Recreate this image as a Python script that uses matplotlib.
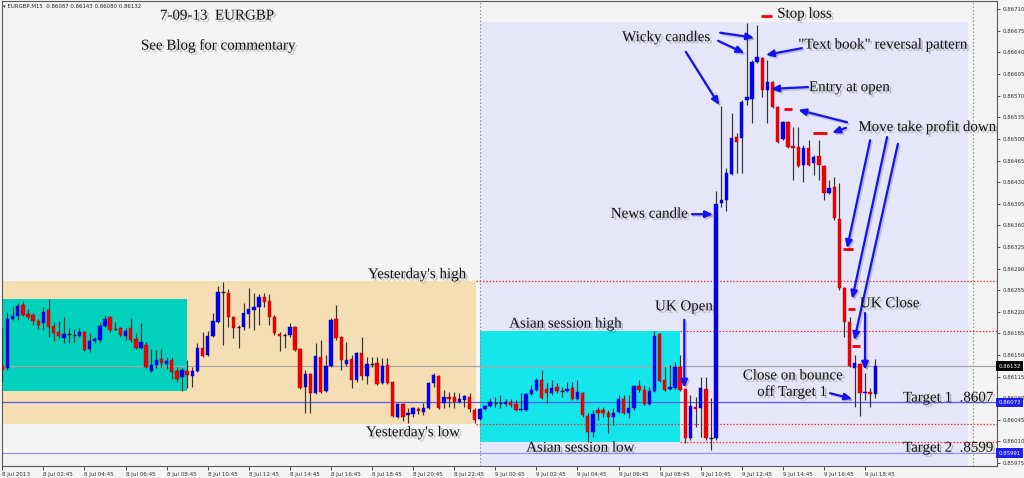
import matplotlib
matplotlib.use('Agg')
import matplotlib.pyplot as plt
import matplotlib.patches as mpatches
import matplotlib.patheffects as pe
from matplotlib.transforms import blended_transform_factory
import numpy as np

# ---------------- data (EURGBP M15, 8 Jul 2013 00:45 -> 9 Jul 2013 19:15) ----------------
opens = [
    0.86132, 0.86129, 0.86208, 0.86213, 0.86231, 0.86216, 0.86215, 0.86205, 0.86202, 0.86223,
    0.86197, 0.86187, 0.86178, 0.86184, 0.86182, 0.86181, 0.86187, 0.86160, 0.86173, 0.86174,
    0.86197, 0.86212, 0.86192, 0.86194, 0.86181, 0.86194, 0.86176, 0.86161, 0.86166, 0.86124,
    0.86134, 0.86143, 0.86135, 0.86142, 0.86124, 0.86114, 0.86124, 0.86116, 0.86124, 0.86161,
    0.86150, 0.86181, 0.86203, 0.86252, 0.86250, 0.86212, 0.86195, 0.86195, 0.86216, 0.86223,
    0.86228, 0.86244, 0.86237, 0.86212, 0.86184, 0.86182, 0.86182, 0.86195, 0.86160, 0.86098,
    0.86119, 0.86088, 0.86147, 0.86092, 0.86132, 0.86208, 0.86179, 0.86135, 0.86143, 0.86109,
    0.86153, 0.86116, 0.86135, 0.86137, 0.86105, 0.86134, 0.86106, 0.86050, 0.86071, 0.86053,
    0.86054, 0.86062, 0.86058, 0.86064, 0.86105, 0.86116, 0.86072, 0.86082, 0.86082, 0.86074,
    0.86077, 0.86082, 0.86061, 0.86046, 0.86062, 0.86067, 0.86072, 0.86072, 0.86071, 0.86074,
    0.86071, 0.86061, 0.86061, 0.86087, 0.86093, 0.86109, 0.86095, 0.86088, 0.86098, 0.86092,
    0.86092, 0.86097, 0.86079, 0.86088, 0.86051, 0.86025, 0.86061, 0.86061, 0.86056, 0.86050,
    0.86058, 0.86079, 0.86056, 0.86064, 0.86100, 0.86093, 0.86071, 0.86092, 0.86184, 0.86109,
    0.86095, 0.86097, 0.86131, 0.86095, 0.86016, 0.86066, 0.86064, 0.86095, 0.86016, 0.86016,
    0.86396, 0.86401, 0.86443, 0.86503, 0.86502, 0.86563, 0.86565, 0.86625, 0.86631, 0.86579,
    0.86592, 0.86552, 0.86500, 0.86527, 0.86489, 0.86487, 0.86458, 0.86485, 0.86461, 0.86472,
    0.86456, 0.86412, 0.86422, 0.86370, 0.86259, 0.86203, 0.86129, 0.86135, 0.86088, 0.86090,
    0.86087]
highs = [
    0.86194, 0.86220, 0.86228, 0.86234, 0.86237, 0.86224, 0.86218, 0.86208, 0.86228, 0.86241,
    0.86203, 0.86205, 0.86212, 0.86194, 0.86192, 0.86194, 0.86189, 0.86186, 0.86179, 0.86202,
    0.86215, 0.86213, 0.86203, 0.86195, 0.86194, 0.86210, 0.86186, 0.86202, 0.86171, 0.86160,
    0.86158, 0.86160, 0.86147, 0.86147, 0.86131, 0.86129, 0.86142, 0.86131, 0.86169, 0.86187,
    0.86189, 0.86218, 0.86262, 0.86268, 0.86257, 0.86213, 0.86199, 0.86234, 0.86259, 0.86250,
    0.86249, 0.86250, 0.86249, 0.86215, 0.86187, 0.86186, 0.86202, 0.86197, 0.86161, 0.86126,
    0.86121, 0.86169, 0.86174, 0.86150, 0.86210, 0.86231, 0.86181, 0.86171, 0.86150, 0.86155,
    0.86179, 0.86147, 0.86147, 0.86147, 0.86145, 0.86145, 0.86108, 0.86072, 0.86072, 0.86064,
    0.86066, 0.86066, 0.86072, 0.86106, 0.86121, 0.86118, 0.86093, 0.86090, 0.86090, 0.86088,
    0.86085, 0.86088, 0.86064, 0.86064, 0.86069, 0.86080, 0.86082, 0.86085, 0.86079, 0.86079,
    0.86077, 0.86088, 0.86088, 0.86101, 0.86113, 0.86126, 0.86105, 0.86109, 0.86105, 0.86098,
    0.86106, 0.86106, 0.86109, 0.86090, 0.86056, 0.86061, 0.86066, 0.86066, 0.86061, 0.86064,
    0.86085, 0.86085, 0.86085, 0.86101, 0.86109, 0.86101, 0.86098, 0.86189, 0.86186, 0.86131,
    0.86134, 0.86139, 0.86150, 0.86097, 0.86085, 0.86082, 0.86114, 0.86114, 0.86080, 0.86416,
    0.86553, 0.86453, 0.86542, 0.86510, 0.86563, 0.86688, 0.86628, 0.86685, 0.86633, 0.86628,
    0.86594, 0.86553, 0.86529, 0.86529, 0.86519, 0.86519, 0.86490, 0.86498, 0.86474, 0.86498,
    0.86458, 0.86433, 0.86438, 0.86429, 0.86260, 0.86212, 0.86150, 0.86137, 0.86120, 0.86097,
    0.86143]
lows = [
    0.86106, 0.86126, 0.86207, 0.86207, 0.86213, 0.86208, 0.86199, 0.86192, 0.86190, 0.86179,
    0.86173, 0.86178, 0.86169, 0.86169, 0.86171, 0.86179, 0.86156, 0.86155, 0.86169, 0.86171,
    0.86195, 0.86187, 0.86190, 0.86179, 0.86174, 0.86171, 0.86160, 0.86160, 0.86129, 0.86122,
    0.86129, 0.86131, 0.86127, 0.86111, 0.86106, 0.86092, 0.86097, 0.86098, 0.86122, 0.86147,
    0.86148, 0.86179, 0.86202, 0.86166, 0.86195, 0.86178, 0.86161, 0.86190, 0.86194, 0.86190,
    0.86199, 0.86228, 0.86199, 0.86182, 0.86156, 0.86161, 0.86179, 0.86156, 0.86095, 0.86056,
    0.86056, 0.86087, 0.86088, 0.86090, 0.86131, 0.86174, 0.86126, 0.86132, 0.86097, 0.86106,
    0.86109, 0.86103, 0.86131, 0.86101, 0.86103, 0.86103, 0.86050, 0.86048, 0.86043, 0.86040,
    0.86050, 0.86054, 0.86053, 0.86062, 0.86098, 0.86062, 0.86064, 0.86066, 0.86064, 0.86072,
    0.86066, 0.86058, 0.86040, 0.86045, 0.86061, 0.86066, 0.86066, 0.86064, 0.86067, 0.86066,
    0.86059, 0.86059, 0.86059, 0.86085, 0.86092, 0.86079, 0.86072, 0.86085, 0.86088, 0.86082,
    0.86090, 0.86077, 0.86077, 0.86050, 0.86009, 0.86017, 0.86045, 0.86050, 0.86024, 0.86037,
    0.86056, 0.86054, 0.86048, 0.86061, 0.86090, 0.86069, 0.86069, 0.86090, 0.86106, 0.86092,
    0.86093, 0.86095, 0.86092, 0.86007, 0.86012, 0.86033, 0.86017, 0.86012, 0.85996, 0.86012,
    0.86390, 0.86383, 0.86442, 0.86445, 0.86445, 0.86555, 0.86526, 0.86623, 0.86568, 0.86526,
    0.86550, 0.86493, 0.86498, 0.86485, 0.86433, 0.86455, 0.86430, 0.86456, 0.86442, 0.86433,
    0.86401, 0.86411, 0.86369, 0.86255, 0.86179, 0.86131, 0.86066, 0.86051, 0.86077, 0.86066,
    0.86080]
closes = [
    0.86126, 0.86208, 0.86213, 0.86229, 0.86215, 0.86212, 0.86205, 0.86199, 0.86220, 0.86195,
    0.86186, 0.86181, 0.86184, 0.86184, 0.86182, 0.86187, 0.86158, 0.86173, 0.86176, 0.86197,
    0.86208, 0.86190, 0.86192, 0.86182, 0.86189, 0.86174, 0.86161, 0.86171, 0.86131, 0.86134,
    0.86142, 0.86137, 0.86140, 0.86122, 0.86111, 0.86126, 0.86118, 0.86124, 0.86161, 0.86148,
    0.86181, 0.86205, 0.86252, 0.86252, 0.86212, 0.86194, 0.86195, 0.86218, 0.86224, 0.86228,
    0.86244, 0.86236, 0.86212, 0.86186, 0.86181, 0.86182, 0.86195, 0.86158, 0.86097, 0.86119,
    0.86088, 0.86148, 0.86090, 0.86132, 0.86207, 0.86178, 0.86142, 0.86142, 0.86109, 0.86153,
    0.86116, 0.86135, 0.86135, 0.86103, 0.86132, 0.86105, 0.86051, 0.86071, 0.86050, 0.86056,
    0.86064, 0.86059, 0.86064, 0.86105, 0.86118, 0.86064, 0.86082, 0.86079, 0.86074, 0.86079,
    0.86084, 0.86062, 0.86045, 0.86062, 0.86067, 0.86074, 0.86072, 0.86072, 0.86074, 0.86069,
    0.86061, 0.86062, 0.86087, 0.86093, 0.86109, 0.86080, 0.86088, 0.86097, 0.86092, 0.86092,
    0.86095, 0.86079, 0.86090, 0.86053, 0.86025, 0.86054, 0.86056, 0.86056, 0.86050, 0.86056,
    0.86079, 0.86056, 0.86064, 0.86100, 0.86093, 0.86071, 0.86092, 0.86181, 0.86108, 0.86093,
    0.86098, 0.86131, 0.86093, 0.86016, 0.86067, 0.86062, 0.86097, 0.86016, 0.86016, 0.86395,
    0.86401, 0.86445, 0.86502, 0.86495, 0.86560, 0.86568, 0.86625, 0.86633, 0.86579, 0.86592,
    0.86552, 0.86495, 0.86527, 0.86487, 0.86485, 0.86456, 0.86485, 0.86458, 0.86471, 0.86458,
    0.86412, 0.86421, 0.86372, 0.86259, 0.86203, 0.86132, 0.86137, 0.86088, 0.86090, 0.86087,
    0.86132]

x_tick_labels = ["8 Jul 2013", "8 Jul 02:45", "8 Jul 04:45", "8 Jul 06:45", "8 Jul 08:45",
                 "8 Jul 10:45", "8 Jul 12:45", "8 Jul 14:45", "8 Jul 16:45", "8 Jul 18:45",
                 "8 Jul 20:45", "8 Jul 22:45", "9 Jul 00:45", "9 Jul 02:45", "9 Jul 04:45",
                 "9 Jul 06:45", "9 Jul 08:45", "9 Jul 10:45", "9 Jul 12:45", "9 Jul 14:45",
                 "9 Jul 16:45", "9 Jul 18:45"]
x_tick_bars = [0, 8, 16, 24, 32, 40, 48, 56, 64, 72, 80, 88, 96, 104, 112, 120, 128, 136,
               144, 152, 160, 168]
y_tick_labels = ["0.86710", "0.86675", "0.86640", "0.86605", "0.86570", "0.86535", "0.86500",
                 "0.86465", "0.86430", "0.86395", "0.86360", "0.86325", "0.86290", "0.86255",
                 "0.86220", "0.86185", "0.86150", "0.86115", "0.86080", "0.86045", "0.86010",
                 "0.85975"]

last_price = 0.86132
target1 = 0.86073
target2 = 0.85991
yest_high, yest_low = 0.86270, 0.86038
asia1_high, asia1_low = 0.86241, 0.86092
asia_high, asia_low = 0.86189, 0.86009
stop_loss = 0.86699
tp_levels = [0.86548, 0.86510, 0.86322, 0.86224, 0.86165]
tp_spans = [(152.2, 153.8), (157.9, 160.6), (163.7, 165.7), (164.7, 166.1), (165.5, 167.0)]

# ---------------- figure ----------------
BG = '#F4F4F4'
fig = plt.figure(figsize=(10.24, 4.78), dpi=100, facecolor=BG)
ax = fig.add_axes([2/1024, 12/478, 995/1024, 465/478])
ax.set_facecolor(BG)
XMAX = 193.7
ax.set_xlim(-0.06, XMAX)
ax.set_ylim(0.859701, 0.867234)

def rect(x0, x1, y0, y1, color, z):
    ax.add_patch(mpatches.Rectangle((x0, y0), x1 - x0, y1 - y0, facecolor=color,
                                    edgecolor='none', zorder=z))

rect(-1, 92.2, yest_low, yest_high, '#F5DEB3', 0.5)
rect(-1, 36.0, asia1_low, asia1_high, '#02D2BC', 0.6)
rect(93.0, 188.0, 0.8590, 0.86689, '#E6E6FA', 0.5)
rect(93.0, 132.0, asia_low, asia_high, '#14E6EC', 0.6)

# horizontal lines
ax.axhline(last_price, color='#A6A6A6', lw=0.9, zorder=1.5)
ax.axhline(target1, color='#5A5AE6', lw=0.9, zorder=1.5)
ax.axhline(target2, color='#9696EC', lw=0.9, zorder=1.5)
dot = (0, (1.2, 1.4))
for lvl in (yest_high, yest_low):
    ax.hlines(lvl, 92.2, XMAX, colors='#F03030', linestyles=dot, lw=0.9, zorder=1.6)
for lvl in (asia_high, asia_low):
    ax.hlines(lvl, 132.0, XMAX, colors='#F03030', linestyles=dot, lw=0.9, zorder=1.6)
for vx in (93.0, 189.0):
    ax.axvline(vx, color='#8A8A8A', ls=(0, (1.2, 2.0)), lw=0.8, zorder=1.4)

# candles
o = np.array(opens); h = np.array(highs); l = np.array(lows); c = np.array(closes)
xs = np.arange(len(o))
ax.vlines(xs, l, h, colors='#333333', lw=0.85, zorder=3)
up = c > o
dn = c < o
dj = c == o
W = 0.66
ax.bar(xs[up], np.maximum((c - o)[up], 0.000015), bottom=o[up], width=W,
       color='#0000F2', edgecolor='#0000C0', lw=0.3, zorder=4)
ax.bar(xs[dn], np.maximum((o - c)[dn], 0.000015), bottom=c[dn], width=W,
       color='#F20000', edgecolor='#C00000', lw=0.3, zorder=4)
ax.hlines(o[dj], xs[dj] - W / 2, xs[dj] + W / 2, colors='#202020', lw=1.0, zorder=4)

# stop loss and take-profit dashes
ax.hlines(stop_loss, 147.8, 149.9, colors='#F00000', lw=2.0, zorder=6)
for lvl, (a, b) in zip(tp_levels, tp_spans):
    ax.hlines(lvl, a, b, colors='#F00000', lw=2.0, zorder=6)

# axes styling
for s in ax.spines.values():
    s.set_color('#5A5A5A'); s.set_linewidth(0.8)
ax.yaxis.tick_right()
ax.set_yticks([float(t) for t in y_tick_labels])
ax.set_yticklabels(y_tick_labels)
ax.tick_params(axis='y', direction='out', length=2.5, width=0.6, labelsize=3.9, pad=1.2,
               colors='#303030')
ax.set_xticks(x_tick_bars)
ax.set_xticklabels(x_tick_labels, ha='left')
ax.tick_params(axis='x', direction='out', length=3, width=0.6, labelsize=4.1, pad=1.5,
               colors='#303030')

# right price labels
trans = blended_transform_factory(ax.transAxes, ax.transData)
for val, fc in [(last_price, '#000000'), (target1, '#1E1EF0'), (target2, '#1E1EF0')]:
    ax.text(1.0012, val, f'{val:.5f}', transform=trans, fontsize=3.9, color='white',
            va='center', ha='left', zorder=10, clip_on=False,
            bbox=dict(boxstyle='square,pad=0.45', fc=fc, ec='none'))

# header
fig.text(3/1024, 1 - 6/478, '\u25be EURGBP,M15  0.86087 0.86143 0.86080 0.86132',
         fontsize=3.9, va='center', ha='left', color='#202020')

# annotations
shadow = [pe.withSimplePatchShadow(offset=(1.6, -1.6), shadow_rgbFace=(0.35, 0.35, 0.35),
                                   alpha=0.35)]
SERIF = 'Liberation Serif'
notes = [
    ("7-09-13  EURGBP", 30.7, 0.86699),
    ("See Blog for commentary", 27.0, 0.86651),
    ("Wicky candles", 120.7, 0.86664),
    ("Stop loss", 150.9, 0.86702),
    ('"Text book" reversal pattern', 155.0, 0.86652),
    ("Entry at open", 157.1, 0.86583),
    ("Move take profit down", 166.7, 0.86519),
    ("News candle", 118.5, 0.86378),
    ("Yesterday's high", 71.2, 0.86280),
    ("UK Open", 127.1, 0.86228),
    ("UK Close", 167.0, 0.86233),
    ("Asian session high", 98.7, 0.86200),
    ("Close on bounce", 144.2, 0.86116),
    ("off Target 1", 147.0, 0.86090),
    ("Target 1  .8607", 175.4, 0.86080),
    ("Yesterday's low", 70.8, 0.86024),
    ("Asian session low", 102.0, 0.85999),
    ("Target 2  .8599", 175.4, 0.85999),
]
for txt, bx, py in notes:
    ax.text(bx, py, txt, fontsize=10.8, family=SERIF, color='#111111', ha='left',
            va='center', zorder=12, path_effects=shadow, clip_on=False)

arrows = [
    ((132.8, 0.86207), (132.8, 0.86097)),
    ((134.3, 0.86378), (138.4, 0.86378)),
    ((133.1, 0.86641), (139.6, 0.86555)),
    ((139.8, 0.86672), (146.4, 0.86664)),
    ((139.4, 0.86659), (144.5, 0.86639)),
    ((155.7, 0.86647), (148.7, 0.86636)),
    ((156.9, 0.86584), (149.7, 0.86581)),
    ((164.5, 0.86527), (155.0, 0.86547)),
    ((164.3, 0.86518), (161.6, 0.86510)),
    ((169.0, 0.86498), (164.5, 0.86323)),
    ((172.3, 0.86503), (165.5, 0.86241)),
    ((174.4, 0.86492), (165.9, 0.86174)),
    ((168.0, 0.86218), (168.0, 0.86126)),
    ((161.2, 0.86088), (165.5, 0.86079)),
]
arrow_shadow = [pe.SimpleLineShadow(offset=(1.2, -1.2), shadow_color='0.4', alpha=0.3),
                pe.Normal()]
for (tx, ty), (hx, hy) in arrows:
    ax.annotate('', xy=(hx, hy), xytext=(tx, ty), zorder=11,
                arrowprops=dict(arrowstyle='-|>,head_length=0.45,head_width=0.2',
                                color='#1212F2', lw=1.6, shrinkA=0, shrinkB=0,
                                mutation_scale=10, path_effects=arrow_shadow))

fig.savefig('out.png', dpi=100, facecolor=BG)
